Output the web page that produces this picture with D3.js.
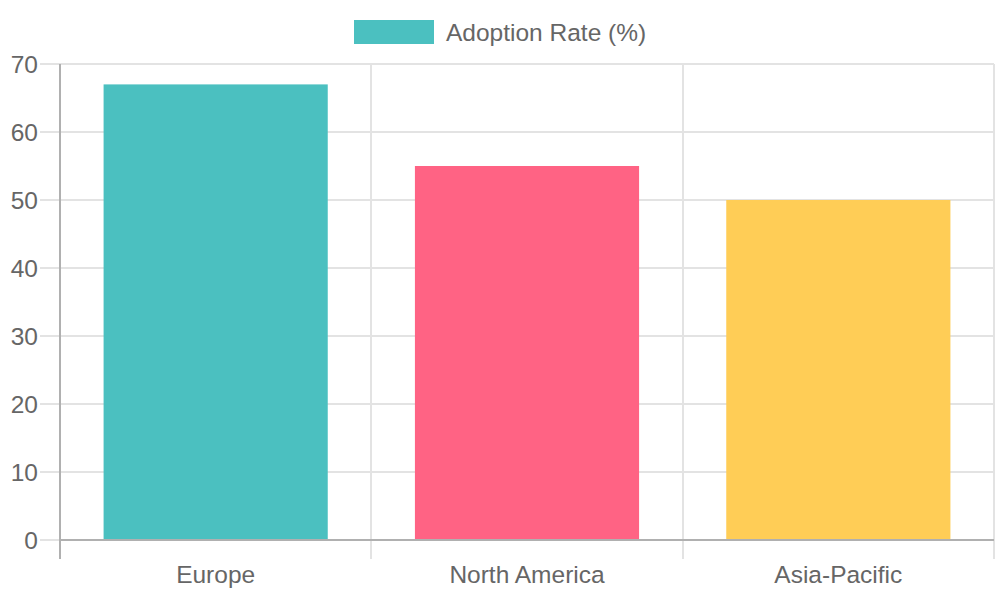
<!DOCTYPE html>
<html>
<head>
<meta charset="utf-8">
<script src="https://cdn.jsdelivr.net/npm/d3@7"></script>
<style>
  body { margin: 0; background: #fff; }
  svg text { font-family: "Liberation Sans", Arial, sans-serif; fill: #666; }
</style>
</head>
<body>
<svg id="chart" width="1000" height="600"></svg>
<script>
var regions = ["Europe", "North America", "Asia-Pacific"];
var adoption = [67, 55, 50];
var barColors = ["#4bc0c0", "#ff6384", "#ffcd56"];
var yTicks = [0, 10, 20, 30, 40, 50, 60, 70];
var seriesName = "Adoption Rate (%)";

var svg = d3.select("#chart");
var plotLeft = 60, plotRight = 994, plotTop = 64, plotBottom = 540;

var x = d3.scaleBand().domain(regions).range([plotLeft, plotRight]).paddingInner(0).paddingOuter(0);
var y = d3.scaleLinear().domain([0, 70]).range([plotBottom, plotTop]);

// horizontal grid + y tick marks
svg.selectAll("line.hgrid").data(yTicks).enter().append("line")
    .attr("x1", 40).attr("x2", plotRight)
    .attr("y1", function (d) { return Math.round(y(d)); })
    .attr("y2", function (d) { return Math.round(y(d)); })
    .style("stroke", "#e3e3e3").style("stroke-width", 2);

// vertical grid (category boundaries)
var bounds = regions.map(function (r) { return x(r); }).concat([plotRight]);
svg.selectAll("line.vgrid").data(bounds).enter().append("line")
    .attr("x1", function (d) { return Math.round(d); })
    .attr("x2", function (d) { return Math.round(d); })
    .attr("y1", plotTop).attr("y2", 559)
    .style("stroke", function (d, i) { return i === 0 ? "#b0b0b0" : "#e3e3e3"; })
    .style("stroke-width", 2);

// bars
var barW = x.bandwidth() * 0.72;
svg.selectAll("rect.bar").data(adoption).enter().append("rect")
    .attr("x", function (d, i) { return x(regions[i]) + (x.bandwidth() - barW) / 2; })
    .attr("y", function (d) { return y(d); })
    .attr("width", barW)
    .attr("height", function (d) { return plotBottom - y(d); })
    .style("fill", function (d, i) { return barColors[i]; });

// x axis line
svg.append("line")
    .attr("x1", plotLeft - 1).attr("x2", plotRight)
    .attr("y1", plotBottom).attr("y2", plotBottom)
    .style("stroke", "#b0b0b0").style("stroke-width", 2);

// y labels
svg.selectAll("text.ylab").data(yTicks).enter().append("text")
    .attr("x", 38)
    .attr("y", function (d) { return y(d); })
    .attr("dy", "0.35em")
    .attr("text-anchor", "end")
    .style("font-size", "24.5px")
    .text(function (d) { return d; });

// x labels
svg.selectAll("text.xlab").data(regions).enter().append("text")
    .attr("x", function (d) { return x(d) + x.bandwidth() / 2; })
    .attr("y", 574)
    .attr("dy", "0.35em")
    .attr("text-anchor", "middle")
    .style("font-size", "24.5px")
    .text(function (d) { return d; });

// legend
svg.append("rect")
    .attr("x", 354).attr("y", 20).attr("width", 80).attr("height", 24)
    .style("fill", barColors[0]);
svg.append("text")
    .attr("x", 446).attr("y", 32).attr("dy", "0.35em")
    .style("font-size", "24.5px")
    .text(seriesName);
</script>
</body>
</html>
